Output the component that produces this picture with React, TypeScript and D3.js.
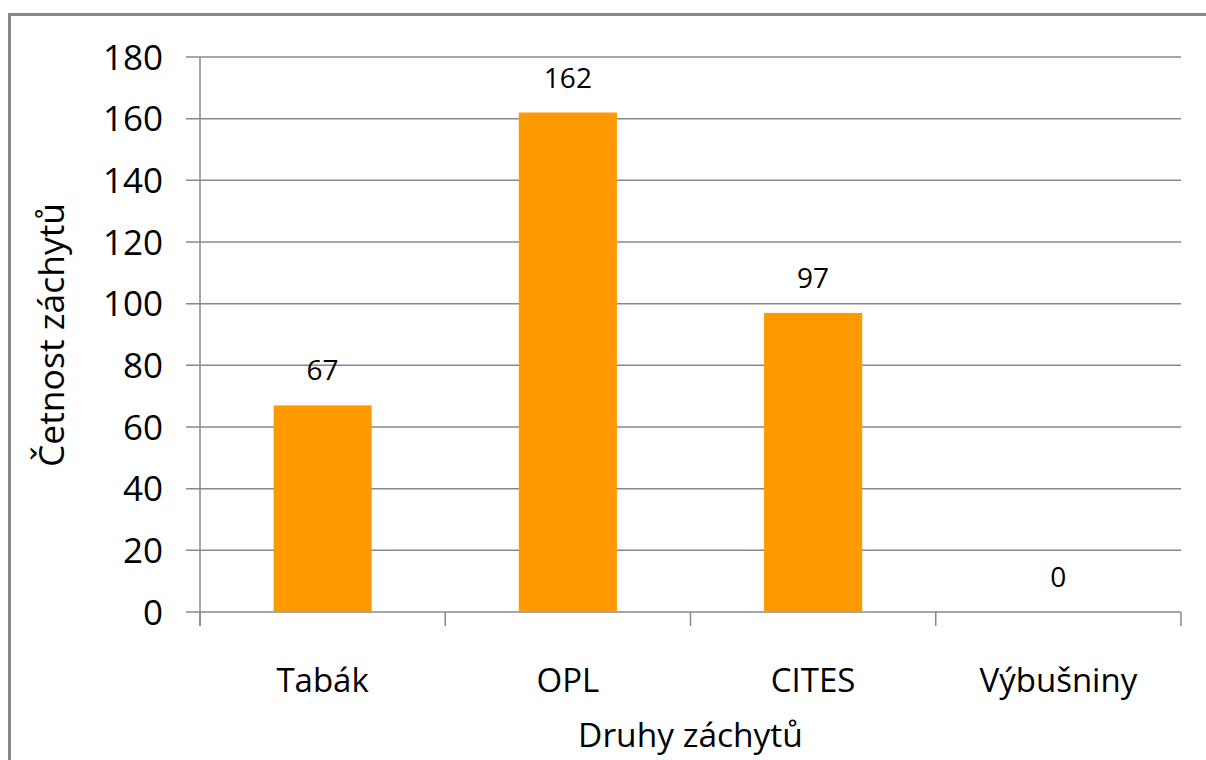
import * as d3 from "d3";

const categories = ["Tabák", "OPL", "CITES", "Výbušniny"];
const values = [67, 162, 97, 0];
const yTicks = [0, 20, 40, 60, 80, 100, 120, 140, 160, 180];

const width = 1206;
const height = 760;
const marginLeft = 200;
const marginRight = 25;
const marginTop = 57;
const marginBottom = 148;
const font = "'Open Sans', sans-serif";

export default function App() {
  const x = d3
    .scaleBand<string>()
    .domain(categories)
    .range([marginLeft, width - marginRight])
    .paddingInner(0.6)
    .paddingOuter(0.3);
  const step = x.step();
  const y = d3.scaleLinear([0, 180], [height - marginBottom, marginTop]);
  const y0 = y(0);
  const bounds = categories.map((c) => (x(c) as number) - step * 0.3);
  bounds.push(width - marginRight);

  return (
    <svg
      width={width}
      height={height}
      style={{ position: "absolute", left: 0, top: 0, background: "#fff" }}
      fontFamily={font}
    >
      <rect x={9.5} y={14.5} width={width} height={height} fill="none" stroke="#888" strokeWidth={3} />
      <g stroke="#888" strokeWidth={1.5}>
        {yTicks.map((t) => (
          <line key={t} x1={marginLeft - 14} x2={width - marginRight} y1={y(t)} y2={y(t)} />
        ))}
        <line x1={marginLeft} x2={marginLeft} y1={marginTop} y2={y0 + 14} />
        {bounds.map((b, i) => (
          <line key={i} x1={b} x2={b} y1={y0} y2={y0 + 14} />
        ))}
      </g>
      <g fontSize={35} textAnchor="end" fill="#000">
        {yTicks.map((t) => (
          <text key={t} x={163} y={y(t)} dy="0.36em">
            {t}
          </text>
        ))}
      </g>
      <g fill="#FF9900">
        {categories.map((c, i) => (
          <rect key={c} x={x(c)} y={y(values[i])} width={x.bandwidth()} height={y0 - y(values[i])} />
        ))}
      </g>
      <g fontSize={28} textAnchor="middle" fill="#000">
        {categories.map((c, i) => (
          <text key={c} x={(x(c) as number) + x.bandwidth() / 2} y={y(values[i]) - 25}>
            {values[i]}
          </text>
        ))}
      </g>
      <g fontSize={33} textAnchor="middle" fill="#000">
        {categories.map((c) => (
          <text key={c} x={(x(c) as number) + x.bandwidth() / 2} y={692}>
            {c}
          </text>
        ))}
      </g>
      <text x={(marginLeft + width - marginRight) / 2} y={747} fontSize={33.5} textAnchor="middle">
        Druhy záchytů
      </text>
      <text
        transform={`translate(64,${(200 + 470) / 2}) rotate(-90)`}
        fontSize={35.5}
        textAnchor="middle"
      >
        Četnost záchytů
      </text>
    </svg>
  );
}
